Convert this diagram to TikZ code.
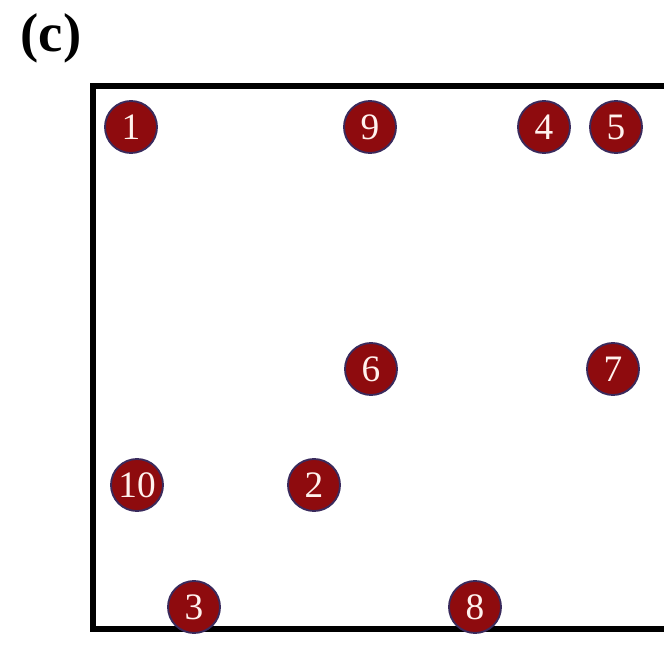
\documentclass[tikz,border=0pt]{standalone}
\usepackage{fontspec}
\setmainfont{Liberation Serif}
\definecolor{dotred}{HTML}{8E0B0E}
\definecolor{dotrim}{HTML}{3A2A5C}
\definecolor{dottext}{HTML}{FFF2EE}
\begin{document}
\begin{tikzpicture}[x=0.75pt,y=-0.75pt,
  dot/.style={circle,fill=dotred,draw=dotrim,line width=1.4pt,minimum size=39pt,inner sep=0pt,
    text=dottext,font=\fontsize{28}{28}\selectfont},
  frame/.style={line width=4.5pt,draw=black}]
\useasboundingbox (0,0) rectangle (664,660);
\clip (0,0) rectangle (664,660);
\node[font=\bfseries\fontsize{41}{41}\selectfont,inner sep=0pt] (lab) at (51,38) {(c)};
\draw[frame] (93,86) rectangle (720,629);
\node[dot] (n1) at (131,127) {1};
\node[dot] (n9) at (370,127) {9};
\node[dot] (n4) at (544,127) {4};
\node[dot] (n5) at (616,127) {5};
\node[dot] (n6) at (371,369) {6};
\node[dot] (n7) at (613,369) {7};
\node[dot] (n10) at (137,485) {10};
\node[dot] (n2) at (314,485) {2};
\node[dot] (n3) at (194,607) {3};
\node[dot] (n8) at (475,607) {8};
\end{tikzpicture}
\end{document}
